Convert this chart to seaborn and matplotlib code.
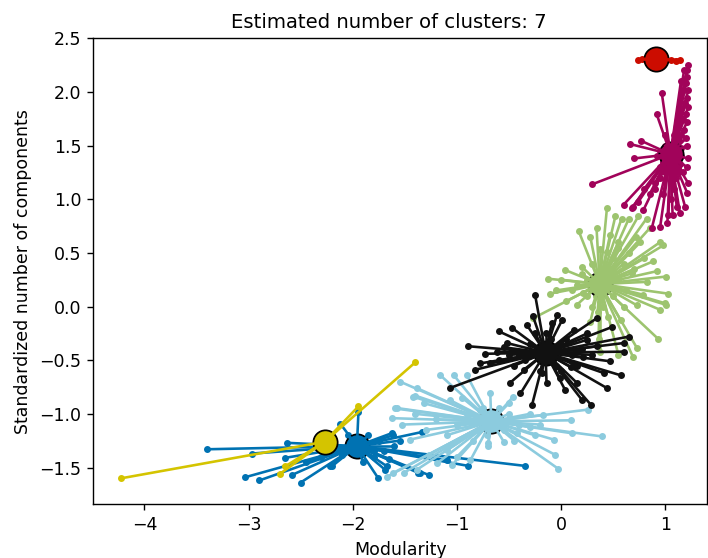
import numpy as np
import pandas as pd
import matplotlib
matplotlib.use("Agg")
import matplotlib.pyplot as plt
import seaborn as sns

# ---- data ----
cluster_names = ["blue", "green", "red", "cyan", "magenta", "yellow", "black"]
cluster_colors = ["#0072b2", "#9dc46f", "#cc0c00", "#8ccbde", "#a1035a", "#d4c400", "#111111"]

center_x = [-1.96, 0.37, 0.91, -0.67, 1.05, -2.27, -0.15]
center_y = [-1.30, 0.21, 2.305, -1.07, 1.42, -1.26, -0.43]

blue_x = [-3.40, -2.63, -2.97, -3.03, -2.895, -2.50, -2.65, -2.585, -2.22, -2.195, -2.12, -1.945,
          -1.755, -1.67, -1.61, -1.625, -1.34, -1.35, -1.27, -1.10, -0.89, -0.345, -1.69, -1.37,
          -2.45, -2.30, -1.80, -1.55,
          -1.80, -1.70, -1.85, -2.05, -2.10, -1.75, -1.60, -2.20, -1.90, -1.65]
blue_y = [-1.33, -1.27, -1.37, -1.59, -1.62, -1.64, -1.41, -1.57, -1.49, -1.485, -1.09, -0.98,
          -1.60, -1.49, -1.20, -1.18, -1.17, -1.55, -1.57, -1.43, -1.485, -1.485, -1.52, -1.55,
          -1.45, -1.40, -1.35, -1.25,
          -1.40, -1.35, -1.20, -1.20, -1.38, -1.25, -1.30, -1.35, -1.45, -1.42]

green_x = [0.44, 0.17, 0.34, 0.52, 0.58, 0.65, 0.74, 0.82, 0.28, 0.37, 0.20, 0.04, -0.13, -0.27,
           -0.11, 0.95, 0.98, 0.88, 0.92, 1.03, 1.00, 0.95, 0.93, 0.73, 0.55, 0.37, 0.28, 0.73,
           0.82, 0.79, 0.21, 0.05, 0.15, 0.44, 0.85, 0.76, 0.55, 0.47, 0.68, 1.01, 0.57, 0.69,
           1.01, 0.36,
           0.20, 0.25, 0.45, 0.50, 0.30, 0.55, 0.15, 0.40, 0.60, 0.35, 0.25, 0.50, 0.62, 0.10,
           0.45, 0.30, 0.55, 0.65, 0.70, 0.60, 0.00, -0.05, 0.80, 0.72,
           0.30, 0.42, 0.35, 0.40, 0.28, 0.48, 0.33, 0.45]
green_y = [0.92, 0.70, 0.73, 0.84, 0.82, 0.82, 0.84, 0.82, 0.65, 0.54, 0.37, 0.34, 0.26, -0.11,
           0.12, 0.60, 0.57, 0.42, 0.33, 0.12, 0.03, -0.03, -0.30, -0.39, -0.45, -0.42, -0.14, 0.01,
           0.23, 0.11, 0.13, 0.05, 0.015, 0.51, 0.73, 0.60, 0.60, 0.67, 0.31, 0.28, -0.125, -0.47,
           0.015, -0.30,
           0.30, 0.10, 0.35, 0.10, 0.40, 0.25, 0.20, 0.00, 0.40, -0.05, 0.25, 0.45, 0.15, 0.15,
           -0.10, 0.00, 0.55, 0.50, 0.35, 0.00, 0.25, 0.15, 0.45, 0.65,
           0.25, 0.20, 0.30, 0.12, 0.15, 0.28, 0.10, 0.18]

red_x = [0.74, 0.78, 0.91, 1.05, 1.10, 1.14]
red_y = [2.30, 2.31, 2.30, 2.30, 2.29, 2.30]

cyan_x = [-1.16, -1.03, -0.905, -1.545, -1.385, -1.40, -1.32, -1.59, -1.625, -1.53, -1.45, -0.68,
          -0.70, -0.46, -0.425, -0.07, -0.06, -0.03, 0.09, 0.26, 0.39, 0.10, -0.17, -0.87, -1.05,
          -1.19, -1.385, -1.51, -1.27, -1.10, -1.00, -0.71, -0.55, -0.78, -1.07, -1.42, -1.58,
          -1.67, -1.61, -0.30,
          -0.90, -1.00, -0.80, -0.50, -0.40, -0.55, -0.75, -1.20, -1.30, -0.30, -0.60, -0.85,
          -0.45, -1.10, -0.20, -1.40, -0.95, -0.50, -0.25, -0.70]
cyan_y = [-0.64, -0.64, -0.64, -0.70, -0.76, -0.83, -0.90, -0.95, -1.04, -1.10, -1.24, -0.81,
          -1.27, -0.84, -1.18, -1.24, -1.38, -1.51, -1.06, -0.96, -1.21, -1.18, -1.01, -1.43, -1.48,
          -1.46, -1.52, -1.55, -1.38, -1.34, -1.40, -1.20, -1.26, -0.96, -0.87, -0.84, -0.945,
          -1.585, -1.55, -1.12,
          -1.00, -1.10, -1.15, -1.00, -1.10, -1.15, -0.95, -1.05, -1.15, -1.00, -0.95, -1.25,
          -1.25, -1.20, -1.10, -1.00, -0.85, -0.90, -1.20, -1.30]

magenta_x = [0.30, 0.66, 0.765, 0.70, 0.966, 0.918, 1.222, 1.206, 1.21, 1.20, 1.222, 1.21, 1.22,
             1.20, 1.21, 1.20, 1.205, 1.22, 1.205, 0.60, 0.68, 0.79, 0.87, 0.95, 1.02, 1.07, 0.69,
             0.74, 1.03, 1.14, 1.19, 1.11, 1.21, 1.22, 1.18, 1.15, 1.17, 0.98, 0.90,
             1.15, 1.17, 1.19, 1.16, 1.18, 1.13, 1.12, 1.10, 1.00, 0.95, 0.90, 0.85, 0.80, 1.05,
             1.08, 0.97, 1.00, 1.10, 1.13, 1.08, 1.12, 1.15,
             0.95, 1.00, 1.10, 1.15, 1.12, 0.98, 1.02, 1.08, 0.92, 1.00, 1.08, 1.15, 0.95, 1.05,
             1.14]
magenta_y = [1.14, 1.515, 1.546, 1.38, 1.99, 1.79, 2.25, 2.205, 2.14, 2.08, 2.02, 1.94, 1.86,
             1.79, 1.72, 1.57, 1.50, 1.38, 1.30, 0.95, 0.92, 0.90, 0.73, 0.74, 0.78, 0.85, 0.93,
             0.975, 0.85, 0.87, 0.93, 0.93, 1.06, 1.15, 1.65, 2.10, 1.25, 1.05, 1.10,
             1.60, 1.75, 1.90, 2.00, 2.20, 1.55, 1.30, 1.20, 1.25, 1.20, 1.15, 1.05, 1.10, 1.00,
             1.10, 1.30, 1.35, 1.45, 1.38, 1.60, 1.70, 1.85,
             1.45, 1.50, 1.50, 1.40, 1.25, 1.35, 1.30, 1.35, 1.40, 1.60, 1.50, 1.48, 1.30, 1.25,
             1.33]

yellow_x = [-4.22, -1.40, -1.945, -2.70, -2.65]
yellow_y = [-1.60, -0.52, -0.93, -1.56, -1.49]

black_x = [-0.25, -0.89, -0.60, -0.47, -0.33, -0.04, 0.01, 0.34, 0.49, 0.65, 0.60, 0.60, 0.47,
           0.57, 0.44, 0.29, 0.20, 0.04, -0.14, -0.28, -0.39, -0.49, -1.07, -0.83, -0.78, -0.73,
           -0.62, -0.68, -0.36, -0.185, 0.09, 0.21, 0.25, 0.12, 0.34, 0.41, -0.52, -0.27, -0.09,
           -0.01, 0.15,
           -0.30, -0.40, 0.00, 0.10, -0.20, -0.05, -0.35, 0.05, -0.25, 0.20, -0.50, -0.45, 0.15,
           -0.10, 0.30, -0.60, -0.55, 0.25, -0.15, 0.00]
black_y = [0.11, -0.37, -0.23, -0.20, -0.17, -0.08, -0.125, -0.11, -0.19, -0.28, -0.34, -0.42,
           -0.51, -0.64, -0.76, -0.92, -0.87, -0.78, -0.71, -0.92, -0.81, -0.71, -0.76, -0.59,
           -0.53, -0.44, -0.42, -0.53, -0.59, -0.62, -0.56, -0.47, -0.31, -0.22, -0.37, -0.62,
           -0.34, -0.09, -0.155, -0.67, -0.71,
           -0.35, -0.45, -0.35, -0.45, -0.60, -0.55, -0.50, -0.30, -0.25, -0.40, -0.45, -0.55,
           -0.55, -0.30, -0.45, -0.50, -0.38, -0.25, -0.25, -0.60]

members_x = [blue_x, green_x, red_x, cyan_x, magenta_x, yellow_x, black_x]
members_y = [blue_y, green_y, red_y, cyan_y, magenta_y, yellow_y, black_y]

x_ticks = [-4, -3, -2, -1, 0, 1]
y_ticks = [-1.5, -1.0, -0.5, 0.0, 0.5, 1.0, 1.5, 2.0, 2.5]

# ---- figure ----
dpi = 125
fig = plt.figure(figsize=(708 / dpi, 558 / dpi), dpi=dpi)
ax = fig.add_axes([93.3 / 708, 1 - 504 / 558, (707 - 93.3) / 708, (504 - 38.3) / 558])

for i, name in enumerate(cluster_names):
    col = cluster_colors[i]
    mx = np.array(members_x[i])
    my = np.array(members_y[i])
    base = 3 * i + 2
    pts = pd.DataFrame({"x": mx, "y": my})
    sns.scatterplot(data=pts, x="x", y="y", ax=ax, marker=".", s=36, color=col,
                    edgecolor=col, linewidth=1, zorder=base, legend=False)
    cen = pd.DataFrame({"x": [center_x[i]], "y": [center_y[i]]})
    sns.scatterplot(data=cen, x="x", y="y", ax=ax, marker="o", s=196, color=col,
                    edgecolor="k", linewidth=1, zorder=base + 1, legend=False)
    seg = pd.DataFrame({
        "x": np.ravel(np.column_stack([np.full(len(mx), center_x[i]), mx])),
        "y": np.ravel(np.column_stack([np.full(len(my), center_y[i]), my])),
        "seg": np.repeat(np.arange(len(mx)), 2),
    })
    sns.lineplot(data=seg, x="x", y="y", units="seg", estimator=None, sort=False, ax=ax,
                 color=col, linewidth=1.5, zorder=base + 2, legend=False)

ax.set_xlim(-4.49, 1.40)
ax.set_ylim(-1.84, 2.50)
ax.set_xticks(x_ticks)
ax.set_yticks(y_ticks)
ax.set_xlabel("Modularity")
ax.set_ylabel("Standardized number of components")
ax.set_title("Estimated number of clusters: 7", fontsize=11.3, x=0.482)

fig.savefig("out.png", dpi=dpi)
